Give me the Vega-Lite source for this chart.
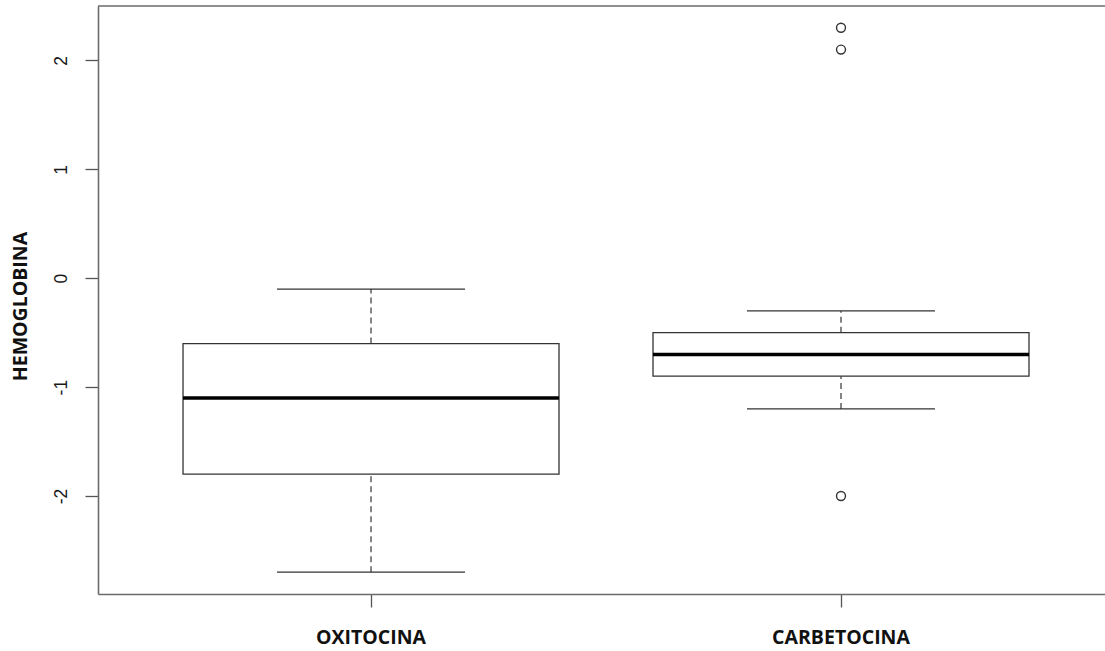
{
  "$schema": "https://vega.github.io/schema/vega-lite/v6.json",
  "width": 1007,
  "height": 588,
  "autosize": {"type": "none"},
  "padding": {"left": 98, "top": 6, "right": 0, "bottom": 57},
  "background": "white",
  "config": {"view": {"stroke": null}, "axis": {"grid": false}},
  "datasets": {
    "boxes": [
      {"group": "OXITOCINA", "lower": -2.7, "q1": -1.8, "median": -1.1, "q3": -0.6, "upper": -0.1},
      {"group": "CARBETOCINA", "lower": -1.2, "q1": -0.9, "median": -0.7, "q3": -0.5, "upper": -0.3}
    ],
    "outliers": [
      {"group": "CARBETOCINA", "value": 2.3},
      {"group": "CARBETOCINA", "value": 2.1},
      {"group": "CARBETOCINA", "value": -2.0}
    ]
  },
  "layer": [
    {
      "data": {"name": "boxes"},
      "mark": {"type": "rule", "strokeDash": [6, 4], "color": "#444", "strokeWidth": 1.3},
      "encoding": {
        "x": {
          "field": "group", "type": "nominal", "sort": null,
          "scale": {"domain": ["OXITOCINA", "CARBETOCINA"], "paddingInner": 0.2, "paddingOuter": 0.1713, "align": 0.528},
          "axis": {"title": null, "labelAngle": 0, "labelFont": "Open Sans", "labelFontWeight": "bold", "labelFontSize": 19.5, "labelColor": "#111", "labelPadding": 21, "labelBaseline": "top", "tickSize": 13, "tickColor": "#555", "tickWidth": 1.3, "domainColor": "#6b6b6b", "domainWidth": 1.6}
        },
        "y": {"field": "q3", "type": "quantitative", "scale": {"domain": [-2.9, 2.5], "nice": false, "zero": false},
          "axis": {"title": "HEMOGLOBINA", "values": [-2, -1, 0, 1, 2], "labelExpr": "datum.value < 0 ? '-' + abs(datum.value) : '' + datum.value", "titleFont": "Open Sans", "titleFontWeight": "bold", "titleFontSize": 19.5, "titleColor": "#111", "titleAngle": -90, "titleAlign": "center", "titleBaseline": "middle", "titleX": -78, "titleY": 300,
            "labelFont": "Liberation Sans", "labelFontSize": 17.5, "labelColor": "#1a1a1a", "labelAngle": -90, "labelAlign": "center", "labelBaseline": "bottom", "labelPadding": 15, "tickSize": 13, "tickColor": "#555", "tickWidth": 1.3, "domainColor": "#6b6b6b", "domainWidth": 1.6}},
        "y2": {"field": "upper"}
      }
    },
    {
      "data": {"name": "boxes"},
      "mark": {"type": "rule", "strokeDash": [6, 4], "color": "#444", "strokeWidth": 1.3},
      "encoding": {
        "x": {"field": "group", "type": "nominal"},
        "y": {"field": "lower", "type": "quantitative"},
        "y2": {"field": "q1"}
      }
    },
    {
      "data": {"name": "boxes"},
      "mark": {"type": "tick", "size": 188, "thickness": 1.3, "color": "#333", "opacity": 1},
      "encoding": {"x": {"field": "group", "type": "nominal"}, "y": {"field": "upper", "type": "quantitative"}}
    },
    {
      "data": {"name": "boxes"},
      "mark": {"type": "tick", "size": 188, "thickness": 1.3, "color": "#333", "opacity": 1},
      "encoding": {"x": {"field": "group", "type": "nominal"}, "y": {"field": "lower", "type": "quantitative"}}
    },
    {
      "data": {"name": "boxes"},
      "mark": {"type": "bar", "fill": "white", "stroke": "#333", "strokeWidth": 1.3},
      "encoding": {
        "x": {"field": "group", "type": "nominal"},
        "y": {"field": "q1", "type": "quantitative"},
        "y2": {"field": "q3"}
      }
    },
    {
      "data": {"name": "boxes"},
      "mark": {"type": "tick", "size": 376, "thickness": 3.5, "color": "black", "opacity": 1},
      "encoding": {"x": {"field": "group", "type": "nominal"}, "y": {"field": "median", "type": "quantitative"}}
    },
    {
      "data": {"name": "outliers"},
      "mark": {"type": "point", "shape": "circle", "filled": false, "size": 80, "stroke": "#333", "strokeWidth": 1.4, "opacity": 1},
      "encoding": {"x": {"field": "group", "type": "nominal"}, "y": {"field": "value", "type": "quantitative"}}
    },
    {
      "data": {"values": [{"top": 2.5}]},
      "mark": {"type": "rule", "color": "#6b6b6b", "strokeWidth": 1.6},
      "encoding": {"y": {"field": "top", "type": "quantitative"}}
    }
  ]
}
